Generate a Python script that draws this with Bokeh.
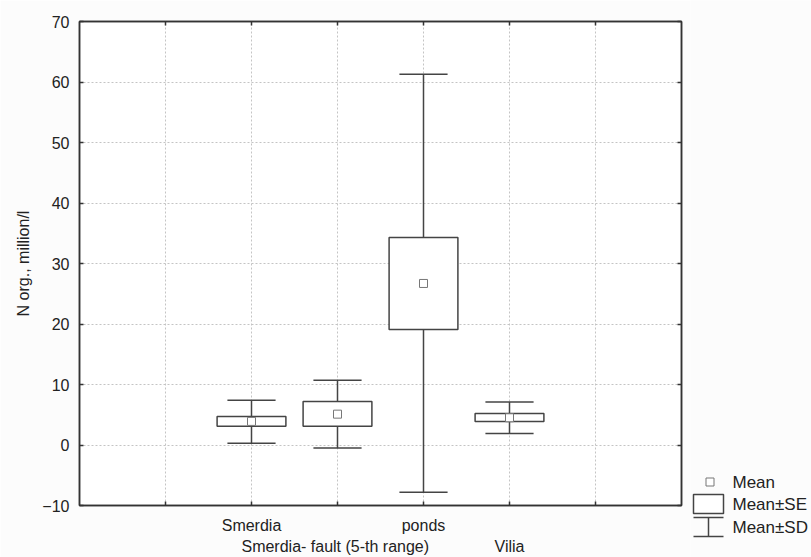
from bokeh.plotting import figure
from bokeh.models import Range1d, LinearAxis, FixedTicker, ColumnDataSource
from bokeh.layouts import row
from bokeh.core.properties import value
from bokeh.embed import file_html
from bokeh.resources import INLINE

# ---- data ----
categories = ["Smerdia", "Smerdia- fault  (5-th range)", "ponds", "Vilia"]
mean = [3.9, 5.1, 26.7, 4.5]
se_low = [3.1, 3.1, 19.1, 3.9]
se_high = [4.7, 7.2, 34.3, 5.2]
sd_low = [0.3, -0.5, -7.8, 1.9]
sd_high = [7.4, 10.7, 61.3, 7.1]
y_ticks = [-10, 0, 10, 20, 30, 40, 50, 60, 70]
legend_labels = ["Mean", "Mean\u00b1SE", "Mean\u00b1SD"]

FONT = "Liberation Sans"
TXT = "#222222"
LINE = "#444444"
BG = "#fcfcfc"

xs = [i + 2 for i in range(len(categories))]
x_grid = list(range(1, 7))

src = ColumnDataSource(dict(x=xs, mean=mean, se_low=se_low, se_high=se_high,
                            sd_low=sd_low, sd_high=sd_high,
                            cap_l=[x - 0.28 for x in xs], cap_r=[x + 0.28 for x in xs]))

p = figure(width=690, height=557, x_range=Range1d(0, 7), y_range=Range1d(-10, 70),
           output_backend="svg", toolbar_location=None,
           min_border_left=79, min_border_right=9, min_border_top=21, min_border_bottom=50,
           background_fill_color="white", border_fill_color=BG)
p.frame_align = False
p.outline_line_color = "#333333"
p.outline_line_width = 1.5

def style_axis(ax, labels=True):
    ax.axis_line_color = "#333333"
    ax.axis_line_width = 1.5
    ax.major_tick_in = 4
    ax.major_tick_out = 0
    ax.major_tick_line_color = "#333333"
    ax.major_tick_line_width = 1.5
    ax.minor_tick_line_color = None
    ax.minor_tick_in = 0
    ax.minor_tick_out = 0
    ax.major_label_text_font = FONT
    ax.major_label_text_color = TXT
    ax.major_label_text_font_size = "16px" if labels else "0px"

xa = p.xaxis[0]
xa.ticker = FixedTicker(ticks=x_grid)
style_axis(xa)
over = {t: "" for t in x_grid}
for i, c in enumerate(categories):
    if i % 2 == 0:
        over[xs[i]] = c
xa.major_label_overrides = over
xa.major_label_standoff = 11

xa2 = LinearAxis(ticker=FixedTicker(ticks=[xs[i] for i in range(len(categories)) if i % 2 == 1]))
xa2.major_label_overrides = {xs[i]: categories[i] for i in range(len(categories)) if i % 2 == 1}
xa2.axis_line_color = None
xa2.major_tick_line_color = None
xa2.minor_tick_line_color = None
xa2.major_tick_in = 0
xa2.major_tick_out = 0
xa2.minor_tick_in = 0
xa2.minor_tick_out = 0
xa2.major_label_text_font = FONT
xa2.major_label_text_color = TXT
xa2.major_label_text_font_size = "16px"
xa2.major_label_standoff = 1
p.add_layout(xa2, "below")

ya = p.yaxis[0]
ya.ticker = FixedTicker(ticks=y_ticks)
style_axis(ya)
ya.major_label_standoff = 10
ya.axis_label = "N org., million/l"
ya.axis_label_text_font = FONT
ya.axis_label_text_font_style = "normal"
ya.axis_label_text_font_size = "16px"
ya.axis_label_text_color = TXT
ya.axis_label_standoff = 7

top = LinearAxis(ticker=FixedTicker(ticks=x_grid))
style_axis(top, labels=False)
top.major_label_overrides = {t: "" for t in x_grid}
p.add_layout(top, "above")

right = LinearAxis(ticker=FixedTicker(ticks=y_ticks))
style_axis(right, labels=False)
right.major_label_overrides = {t: "" for t in y_ticks}
p.add_layout(right, "right")

p.xgrid.ticker = FixedTicker(ticks=x_grid)
p.ygrid.ticker = FixedTicker(ticks=y_ticks[1:-1])
for g in (p.xgrid[0], p.ygrid[0]):
    g.grid_line_color = "#c4c4c4"
    g.grid_line_dash = "2 2"
    g.grid_line_width = 1

# whiskers (Mean±SD)
p.segment(x0="x", y0="sd_low", x1="x", y1="sd_high", source=src, line_color=LINE, line_width=1.5)
p.segment(x0="cap_l", y0="sd_low", x1="cap_r", y1="sd_low", source=src, line_color=LINE, line_width=1.5)
p.segment(x0="cap_l", y0="sd_high", x1="cap_r", y1="sd_high", source=src, line_color=LINE, line_width=1.5)
# boxes (Mean±SE)
p.vbar(x="x", bottom="se_low", top="se_high", width=0.8, source=src,
       fill_color="white", line_color=LINE, line_width=1.5)
# mean
p.scatter(x="x", y="mean", source=src, marker="square", size=8,
          fill_color="white", line_color="#777777", line_width=1)

# ---- legend panel (own canvas, window pixel coordinates) ----
lg = figure(width=121, height=557, x_range=Range1d(690, 811), y_range=Range1d(557, 0),
            output_backend="svg", toolbar_location=None, min_border=0,
            x_axis_location=None, y_axis_location=None, title=None,
            background_fill_color=BG, border_fill_color=BG)
lg.frame_align = False
lg.grid.visible = False
lg.outline_line_color = None
lg.scatter(x=[709.5], y=[481.5], marker="square", size=8, fill_color="white",
           line_color="#777777", line_width=1)
lg.quad(left=[693], right=[723], top=[494], bottom=[513], fill_color="white",
        line_color=LINE, line_width=1.5)
lg.segment(x0=[693, 693, 708], y0=[517, 536, 517], x1=[723, 723, 708], y1=[517, 536, 536],
           line_color=LINE, line_width=1.5)
lg.text(x=[732, 732, 732], y=[481.5, 504, 526.5], text=legend_labels,
        text_font=value(FONT), text_font_size="17px", text_color=TXT,
        text_baseline="middle", text_align="left")

layout = row(p, lg, spacing=0)
open("out.html", "w").write(file_html(layout, INLINE))
